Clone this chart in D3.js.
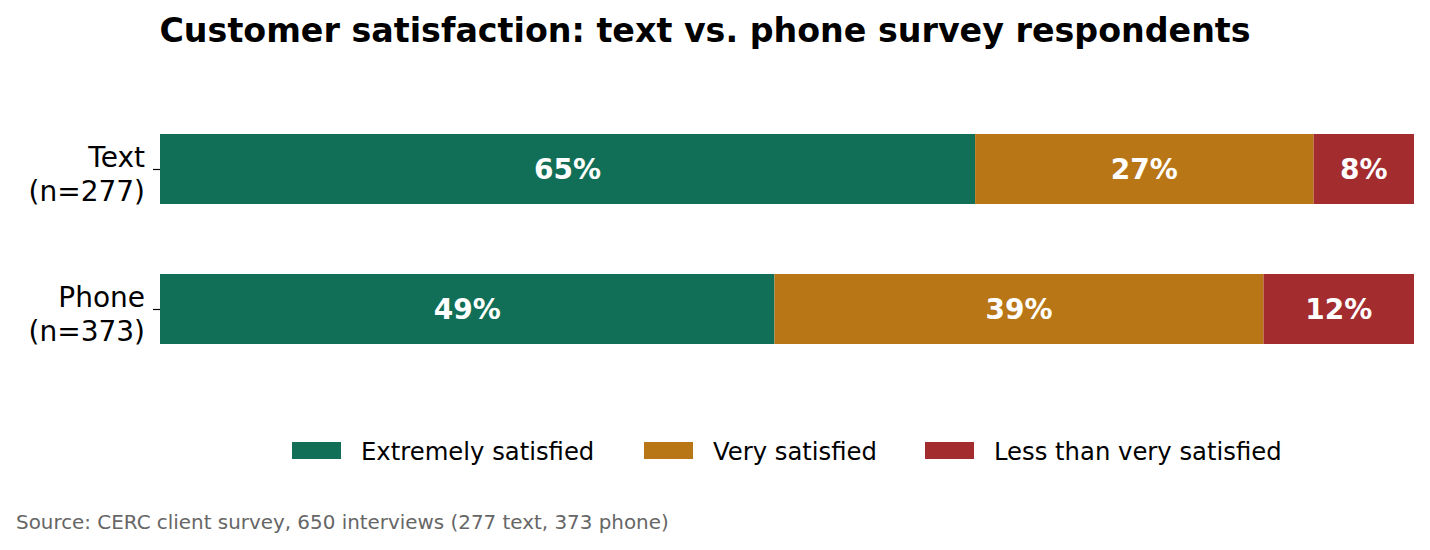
<!DOCTYPE html>
<html>
<head>
<meta charset="utf-8">
<script src="https://cdn.jsdelivr.net/npm/d3@7"></script>
<style>
  body { margin: 0; background: #fff; }
  svg, svg text { font-family: "DejaVu Sans", sans-serif; }
</style>
</head>
<body>
<div id="chart"></div>
<script>
// survey groups (top to bottom) and the share in each satisfaction band
const groups = ["Text", "Phone"];
const groupNotes = ["(n=277)", "(n=373)"];
const bands = ["Extremely satisfied", "Very satisfied", "Less than very satisfied"];
const extremely = [65, 49];
const very = [27, 39];
const lessThan = [8, 12];
const bandColors = ["#116f57", "#b87617", "#a32c2f"];

const width = 1430, height = 550;
const margin = { top: 99, right: 16, bottom: 171, left: 160 };

const svg = d3.select("#chart").append("svg")
  .attr("width", width)
  .attr("height", height);

// one row object per group for the stack layout
const rows = groups.map((g, i) => ({
  group: g,
  [bands[0]]: extremely[i],
  [bands[1]]: very[i],
  [bands[2]]: lessThan[i]
}));
const series = d3.stack().keys(bands)(rows);

const x = d3.scaleLinear()
  .domain([0, 100])
  .range([margin.left, width - margin.right]);

const y = d3.scaleBand()
  .domain(groups)
  .range([margin.top, height - margin.bottom])
  .paddingInner(1)
  .paddingOuter(0.5);
// bar thickness is set separately so the gap matches the reference
const barH = 70;

const color = d3.scaleOrdinal().domain(bands).range(bandColors);

// bars
const layer = svg.append("g").selectAll("g")
  .data(series)
  .join("g")
  .attr("fill", d => color(d.key));

layer.selectAll("rect")
  .data(d => d)
  .join("rect")
  .attr("x", d => x(d[0]))
  .attr("y", d => y(d.data.group) - barH / 2)
  .attr("width", d => x(d[1]) - x(d[0]))
  .attr("height", barH);

// value labels
layer.selectAll("text")
  .data(d => d)
  .join("text")
  .attr("x", d => (x(d[0]) + x(d[1])) / 2)
  .attr("y", d => y(d.data.group))
  .attr("dy", "0.36em")
  .attr("text-anchor", "middle")
  .attr("fill", "#fff")
  .attr("font-weight", "bold")
  .attr("font-size", 28)
  .text(d => (d[1] - d[0]) + "%");

// y axis: ticks only, two-line labels
const yAxis = svg.append("g")
  .attr("transform", `translate(${margin.left},0)`)
  .call(d3.axisLeft(y).tickSize(7).tickPadding(8).tickFormat(""));
yAxis.attr("font-family", null);
yAxis.select(".domain").remove();
yAxis.selectAll(".tick line").attr("stroke", "#000").attr("stroke-width", 1.2);

yAxis.selectAll(".tick").each(function (d, i) {
  const t = d3.select(this).append("text")
    .attr("x", -15)
    .attr("text-anchor", "end")
    .attr("fill", "#000")
    .attr("font-size", 28);
  t.append("tspan").attr("x", -15).attr("dy", "-0.08em").text(d);
  t.append("tspan").attr("x", -15).attr("dy", "1.21em").text(groupNotes[i]);
});

// title
svg.append("text")
  .attr("x", 705)
  .attr("y", 42)
  .attr("text-anchor", "middle")
  .attr("font-weight", "bold")
  .attr("font-size", 33.3)
  .text("Customer satisfaction: text vs. phone survey respondents");

// legend
const legendX = [292, 644, 925];
const legend = svg.append("g").selectAll("g")
  .data(bands)
  .join("g")
  .attr("transform", (d, i) => `translate(${legendX[i]},442)`);
legend.append("rect")
  .attr("width", 49)
  .attr("height", 17)
  .attr("fill", d => color(d));
legend.append("text")
  .attr("x", 69)
  .attr("y", 9)
  .attr("dy", "0.36em")
  .attr("font-size", 24.3)
  .attr("fill", "#000")
  .text(d => d);

// source note
svg.append("text")
  .attr("x", 16)
  .attr("y", 529)
  .attr("font-size", 19.9)
  .attr("fill", "#666")
  .text("Source: CERC client survey, 650 interviews (277 text, 373 phone)");
</script>
</body>
</html>
